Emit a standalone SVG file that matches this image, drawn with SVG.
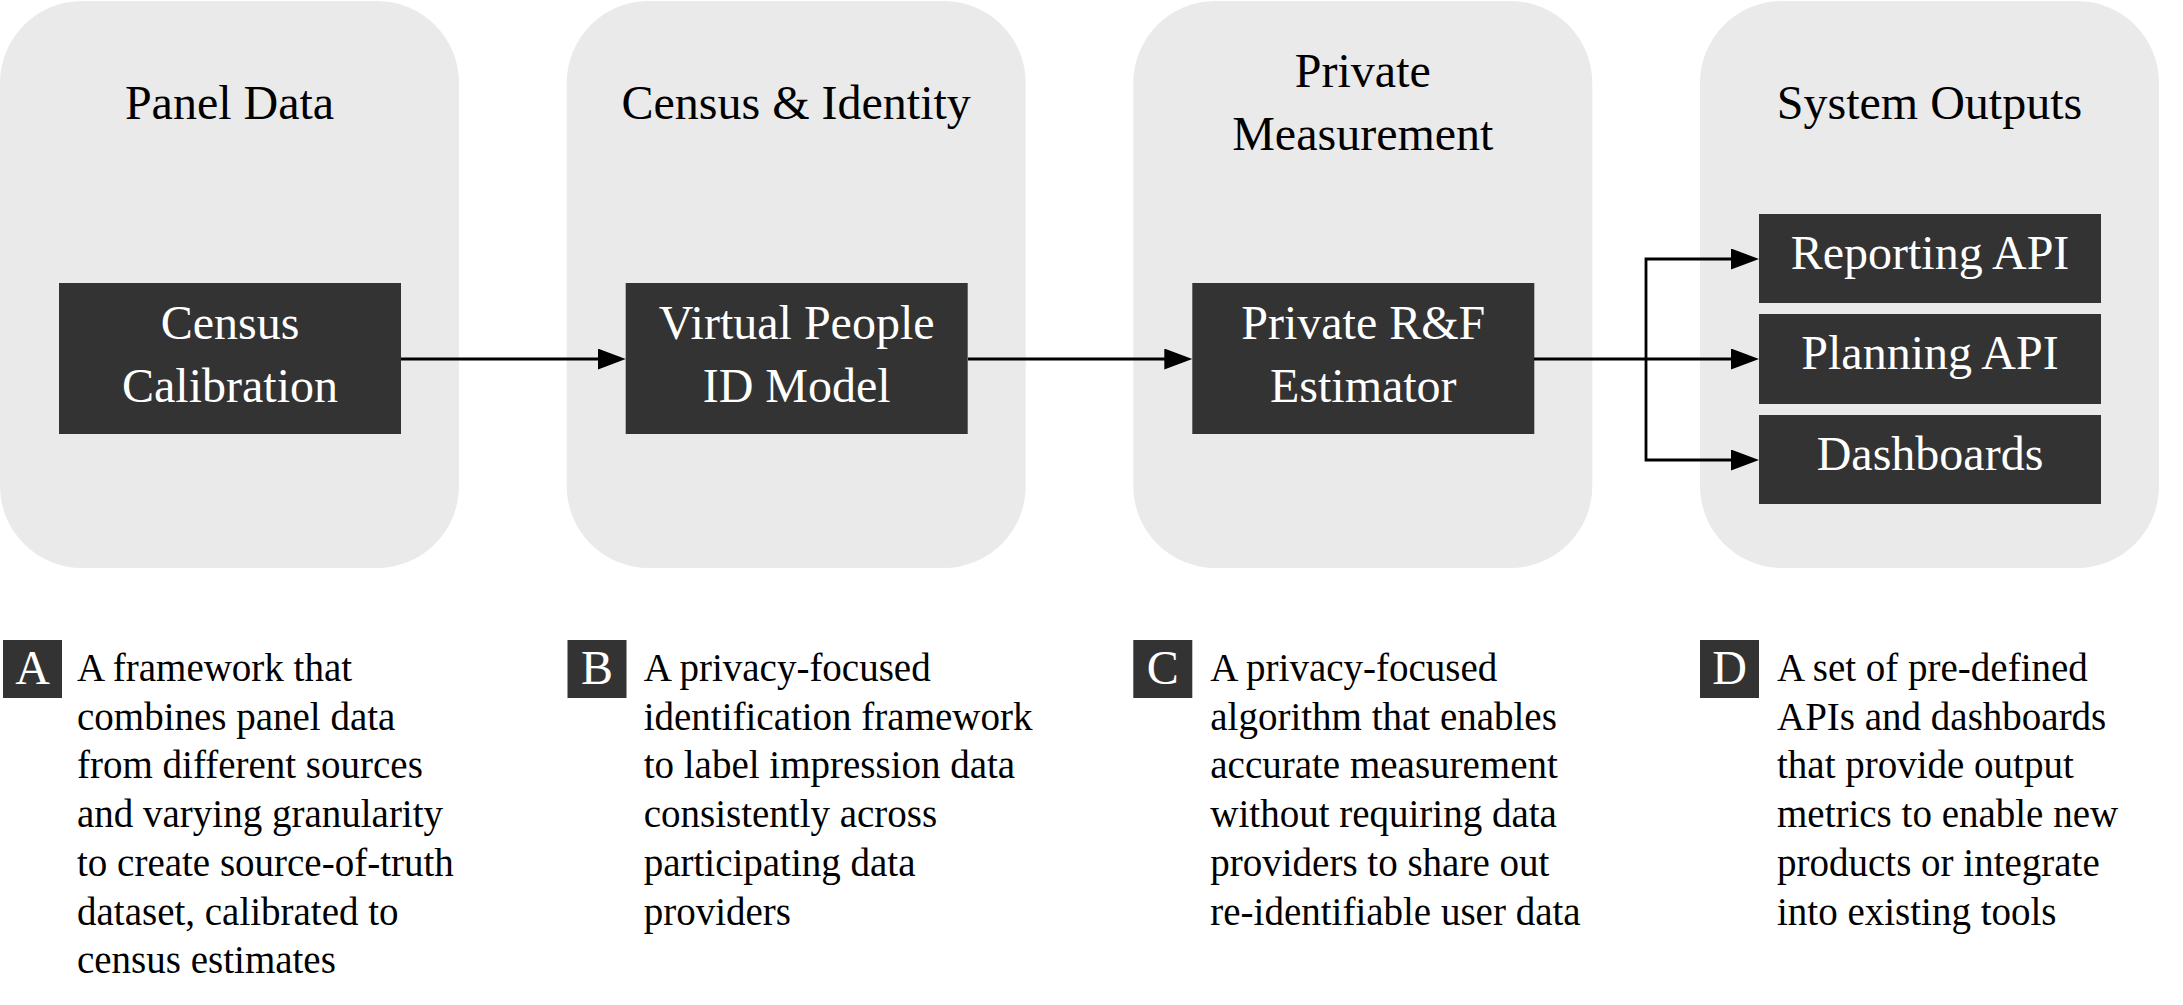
<svg xmlns="http://www.w3.org/2000/svg" width="2183" height="1005" viewBox="0 0 2183 1005">
  <defs>
    <marker id="arrow" markerUnits="userSpaceOnUse" markerWidth="30" markerHeight="22" refX="2" refY="10.5" orient="auto">
      <path d="M0,0 L28,10.5 L0,21 Z" fill="#000"/>
    </marker>
    <style>
      .panel { fill: #EAEAEA; }
      .box { fill: #333333; }
      .title { font-family: "Liberation Serif", serif; font-size: 48px; fill: #000; text-anchor: middle; }
      .btxt { font-family: "Liberation Serif", serif; font-size: 48px; fill: #fff; text-anchor: middle; }
      .desc { font-family: "Liberation Serif", serif; font-size: 39px; fill: #000; }
      .conn { fill: none; stroke: #000; stroke-width: 2.8; marker-end: url(#arrow); }
    </style>
  </defs>
  <rect width="2183" height="1005" fill="#fff"/>

  <g id="panel-data">
    <rect class="panel" x="0" y="1" width="459" height="567" rx="82" ry="82"/>
    <text class="title" x="229.5" y="118.5">Panel Data</text>
  </g>
  <g id="census-identity">
    <rect class="panel" x="566.7" y="1" width="459" height="567" rx="82" ry="82"/>
    <text class="title" x="796.2" y="118.5">Census &amp; Identity</text>
  </g>
  <g id="private-measurement">
    <rect class="panel" x="1133.3" y="1" width="459" height="567" rx="82" ry="82"/>
    <text class="title" x="1362.8" y="87">Private</text>
    <text class="title" x="1362.8" y="150">Measurement</text>
  </g>
  <g id="system-outputs">
    <rect class="panel" x="1700" y="1" width="459" height="567" rx="82" ry="82"/>
    <text class="title" x="1929.5" y="118.5">System Outputs</text>
  </g>

  <g id="census-calibration">
    <rect class="box" x="59" y="283" width="342" height="151"/>
    <text class="btxt" x="230" y="339">Census</text>
    <text class="btxt" x="230" y="402">Calibration</text>
  </g>
  <g id="virtual-people">
    <rect class="box" x="625.7" y="283" width="342" height="151"/>
    <text class="btxt" x="796.7" y="339">Virtual People</text>
    <text class="btxt" x="796.7" y="402">ID Model</text>
  </g>
  <g id="private-rf">
    <rect class="box" x="1192.3" y="283" width="342" height="151"/>
    <text class="btxt" x="1363.3" y="339">Private R&amp;F</text>
    <text class="btxt" x="1363.3" y="402">Estimator</text>
  </g>
  <g id="reporting-api">
    <rect class="box" x="1759" y="214" width="342" height="89"/>
    <text class="btxt" x="1930" y="268.5">Reporting API</text>
  </g>
  <g id="planning-api">
    <rect class="box" x="1759" y="314" width="342" height="90"/>
    <text class="btxt" x="1930" y="369">Planning API</text>
  </g>
  <g id="dashboards">
    <rect class="box" x="1759" y="415" width="342" height="89"/>
    <text class="btxt" x="1930" y="470">Dashboards</text>
  </g>

  <g id="connectors">
    <path class="conn" d="M401,359 H599.7"/>
    <path class="conn" d="M968,359 H1166.3"/>
    <path class="conn" d="M1534,359 H1733"/>
    <path class="conn" d="M1646,359 V259 H1733"/>
    <path class="conn" d="M1646,359 V460 H1733"/>
  </g>

  <g id="desc-a">
    <rect class="box" x="3" y="640" width="59" height="58"/>
    <text class="btxt" x="32.5" y="684">A</text>
    <text class="desc" x="77" y="681">A framework that</text>
    <text class="desc" x="77" y="729.7">combines panel data</text>
    <text class="desc" x="77" y="778.4">from different sources</text>
    <text class="desc" x="77" y="827.1">and varying granularity</text>
    <text class="desc" x="77" y="875.8">to create source-of-truth</text>
    <text class="desc" x="77" y="924.5">dataset, calibrated to</text>
    <text class="desc" x="77" y="973.2">census estimates</text>
  </g>
  <g id="desc-b">
    <rect class="box" x="567.5" y="640" width="59" height="58"/>
    <text class="btxt" x="597" y="684">B</text>
    <text class="desc" x="643.7" y="681">A privacy-focused</text>
    <text class="desc" x="643.7" y="729.7">identification framework</text>
    <text class="desc" x="643.7" y="778.4">to label impression data</text>
    <text class="desc" x="643.7" y="827.1">consistently across</text>
    <text class="desc" x="643.7" y="875.8">participating data</text>
    <text class="desc" x="643.7" y="924.5">providers</text>
  </g>
  <g id="desc-c">
    <rect class="box" x="1133.3" y="640" width="59" height="58"/>
    <text class="btxt" x="1162.8" y="684">C</text>
    <text class="desc" x="1210.3" y="681">A privacy-focused</text>
    <text class="desc" x="1210.3" y="729.7">algorithm that enables</text>
    <text class="desc" x="1210.3" y="778.4">accurate measurement</text>
    <text class="desc" x="1210.3" y="827.1">without requiring data</text>
    <text class="desc" x="1210.3" y="875.8">providers to share out</text>
    <text class="desc" x="1210.3" y="924.5">re-identifiable user data</text>
  </g>
  <g id="desc-d">
    <rect class="box" x="1700" y="640" width="59" height="58"/>
    <text class="btxt" x="1729.5" y="684">D</text>
    <text class="desc" x="1777" y="681">A set of pre-defined</text>
    <text class="desc" x="1777" y="729.7">APIs and dashboards</text>
    <text class="desc" x="1777" y="778.4">that provide output</text>
    <text class="desc" x="1777" y="827.1">metrics to enable new</text>
    <text class="desc" x="1777" y="875.8">products or integrate</text>
    <text class="desc" x="1777" y="924.5">into existing tools</text>
  </g>
</svg>
